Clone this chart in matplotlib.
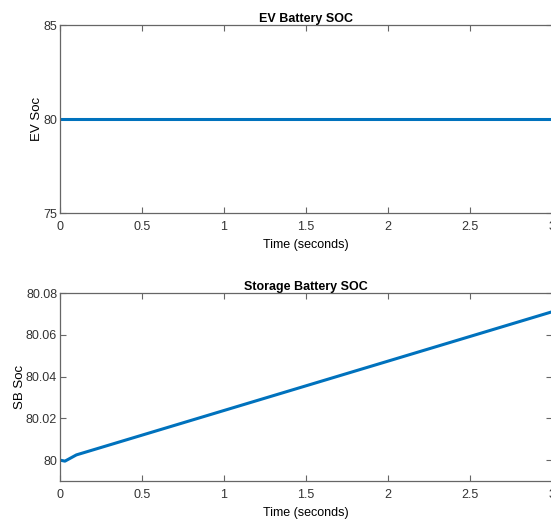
import matplotlib
matplotlib.use("Agg")
import matplotlib.pyplot as plt

plt.rcParams["font.family"] = ["Liberation Sans", "DejaVu Sans"]

# EV battery SOC stays flat at 80
ev_t = [0, 3]
ev_soc = [80, 80]

# storage battery SOC: small dip at the start, then linear rise
sb_t = [0, 0.03, 0.1, 3]
sb_soc = [80.0, 79.9995, 80.0025, 80.071]

LINE = "#0072BD"
AX = "#666666"

fig = plt.figure(figsize=(5.51, 5.21), dpi=100)
W, H = 551, 521


def style(ax):
    for s in ax.spines.values():
        s.set_color(AX)
        s.set_linewidth(0.9)
    ax.tick_params(direction="in", top=True, right=True, length=4,
                   color=AX, labelcolor="#333333", labelsize=9)
    ax.tick_params(axis="x", pad=6)
    ax.tick_params(axis="y", pad=2)


ax1 = fig.add_axes([60 / W, 1 - 213 / H, 492 / W, 188 / H])
ax1.plot(ev_t, ev_soc, color=LINE, lw=2.2)
ax1.set_xlim(0, 3)
ax1.set_ylim(75, 85)
ax1.set_yticks([75, 80, 85])
ax1.set_xticks([0, 0.5, 1, 1.5, 2, 2.5, 3])
ax1.set_xticklabels(["0", "0.5", "1", "1.5", "2", "2.5", "3"])
ax1.set_title("EV Battery SOC", fontsize=9, fontweight="bold", pad=2)
ax1.set_xlabel("Time (seconds)", fontsize=9, labelpad=4)
ax1.set_ylabel("EV Soc", fontsize=9.5, labelpad=0)
style(ax1)

ax2 = fig.add_axes([60 / W, 1 - 481 / H, 492 / W, 188 / H])
ax2.plot(sb_t, sb_soc, color=LINE, lw=2.2)
ax2.set_xlim(0, 3)
ax2.set_ylim(79.99, 80.08)
ax2.set_yticks([80, 80.02, 80.04, 80.06, 80.08])
ax2.set_yticklabels(["80", "80.02", "80.04", "80.06", "80.08"])
ax2.set_xticks([0, 0.5, 1, 1.5, 2, 2.5, 3])
ax2.set_xticklabels(["0", "0.5", "1", "1.5", "2", "2.5", "3"])
ax2.set_title("Storage Battery SOC", fontsize=9, fontweight="bold", pad=2)
ax2.set_xlabel("Time (seconds)", fontsize=9, labelpad=4)
ax2.set_ylabel("SB Soc", fontsize=9.5, labelpad=0)
style(ax2)

fig.savefig("out.png", dpi=100)
